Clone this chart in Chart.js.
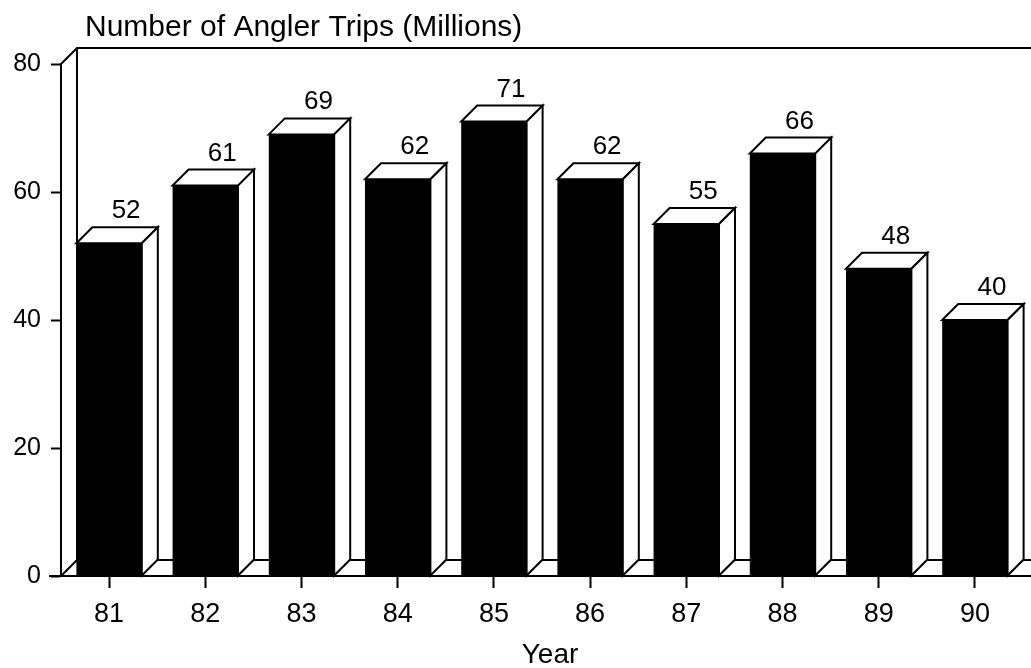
<!DOCTYPE html>
<html>
<head>
<meta charset="utf-8">
<title>Number of Angler Trips (Millions)</title>
<script src="https://cdn.jsdelivr.net/npm/chart.js@4.4.1/dist/chart.umd.min.js"></script>
<style>
  html, body { margin: 0; padding: 0; background: #fff; }
  #wrap { position: relative; width: 1031px; height: 668px; }
</style>
</head>
<body>
<div id="wrap"><canvas id="chart"></canvas></div>
<script>
// Angler trips per year, in millions
const years = ['81', '82', '83', '84', '85', '86', '87', '88', '89', '90'];
const trips = [52, 61, 69, 62, 71, 62, 55, 66, 48, 40];
const yTicks = [0, 20, 40, 60, 80];

const titleText = 'Number of Angler Trips (Millions)';
const xTitleText = 'Year';
const FONT = '"Liberation Sans", Arial, Helvetica, sans-serif';

// depth of the pseudo-3D box and bar blocks
const DX = 16, DY = -16;

const box3d = {
  id: 'box3d',
  beforeDatasetsDraw(chart) {
    const { ctx, chartArea: a, width } = chart;
    ctx.save();
    ctx.strokeStyle = '#000';
    ctx.lineWidth = 2;
    ctx.beginPath();
    // left wall, top edge and back wall
    ctx.moveTo(a.left, a.top);
    ctx.lineTo(a.left + DX, a.top + DY);
    ctx.lineTo(width, a.top + DY);
    ctx.moveTo(a.left + DX, a.top + DY);
    ctx.lineTo(a.left + DX, a.bottom + DY);
    ctx.lineTo(width, a.bottom + DY);
    // floor
    ctx.moveTo(a.left, a.bottom);
    ctx.lineTo(a.left + DX, a.bottom + DY);
    ctx.moveTo(a.left - 12, a.bottom);
    ctx.lineTo(width, a.bottom);
    ctx.stroke();
    ctx.restore();
  },
  afterDatasetsDraw(chart) {
    const { ctx } = chart;
    const meta = chart.getDatasetMeta(0);
    ctx.save();
    ctx.strokeStyle = '#000';
    ctx.lineWidth = 2;
    ctx.lineJoin = 'miter';
    meta.data.forEach((bar, i) => {
      const { x, y, base, width: w } = bar.getProps(['x', 'y', 'base', 'width'], true);
      const l = x - w / 2, r = x + w / 2;
      // top face
      ctx.beginPath();
      ctx.moveTo(l, y);
      ctx.lineTo(r, y);
      ctx.lineTo(r + DX, y + DY);
      ctx.lineTo(l + DX, y + DY);
      ctx.closePath();
      ctx.fillStyle = '#fff';
      ctx.fill();
      ctx.stroke();
      // right side face
      ctx.beginPath();
      ctx.moveTo(r, y);
      ctx.lineTo(r + DX, y + DY);
      ctx.lineTo(r + DX, base + DY);
      ctx.lineTo(r, base);
      ctx.closePath();
      ctx.fill();
      ctx.stroke();
      // value label above the block
      ctx.fillStyle = '#000';
      ctx.font = '26px ' + FONT;
      ctx.textAlign = 'center';
      ctx.textBaseline = 'alphabetic';
      ctx.fillText(String(trips[i]), x + DX + 1, y + DY - 9);
    });
    ctx.restore();
  },
  afterDraw(chart) {
    const { ctx } = chart;
    ctx.save();
    ctx.fillStyle = '#000';
    ctx.font = '30px ' + FONT;
    ctx.textAlign = 'left';
    ctx.textBaseline = 'alphabetic';
    ctx.fillText(titleText, 85, 36);
    ctx.font = '28px ' + FONT;
    ctx.textAlign = 'center';
    ctx.fillText(xTitleText, 550, 663);
    ctx.restore();
  }
};

new Chart(document.getElementById('chart'), {
  type: 'bar',
  data: {
    labels: years,
    datasets: [{
      data: trips,
      backgroundColor: '#000',
      borderColor: '#000',
      borderWidth: 0,
      barPercentage: 0.68,
      categoryPercentage: 1.0
    }]
  },
  options: {
    responsive: true,
    maintainAspectRatio: false,
    animation: false,
    devicePixelRatio: 1,
    layout: { padding: { left: 0, top: 64, right: 8, bottom: 0 } },
    plugins: {
      legend: { display: false },
      title: { display: false },
      tooltip: { enabled: false }
    },
    scales: {
      x: {
        offset: true,
        grid: {
          offset: false,
          drawOnChartArea: false,
          drawTicks: true,
          tickLength: 12,
          tickWidth: 2,
          tickColor: '#000'
        },
        border: { display: false },
        ticks: {
          color: '#000',
          padding: 10,
          font: { family: FONT, size: 27 },
          maxRotation: 0
        },
        afterFit(scale) { scale.height = 92; }
      },
      y: {
        min: 0,
        max: 80,
        afterBuildTicks(scale) { scale.ticks = yTicks.map(v => ({ value: v })); },
        grid: {
          drawOnChartArea: false,
          drawTicks: true,
          tickLength: 10,
          tickWidth: 2,
          tickColor: '#000'
        },
        border: { display: true, color: '#000', width: 2 },
        ticks: {
          color: '#000',
          padding: 10,
          font: { family: FONT, size: 25 }
        },
        afterFit(scale) { scale.width = 61; }
      }
    }
  },
  plugins: [box3d]
});
</script>
</body>
</html>
